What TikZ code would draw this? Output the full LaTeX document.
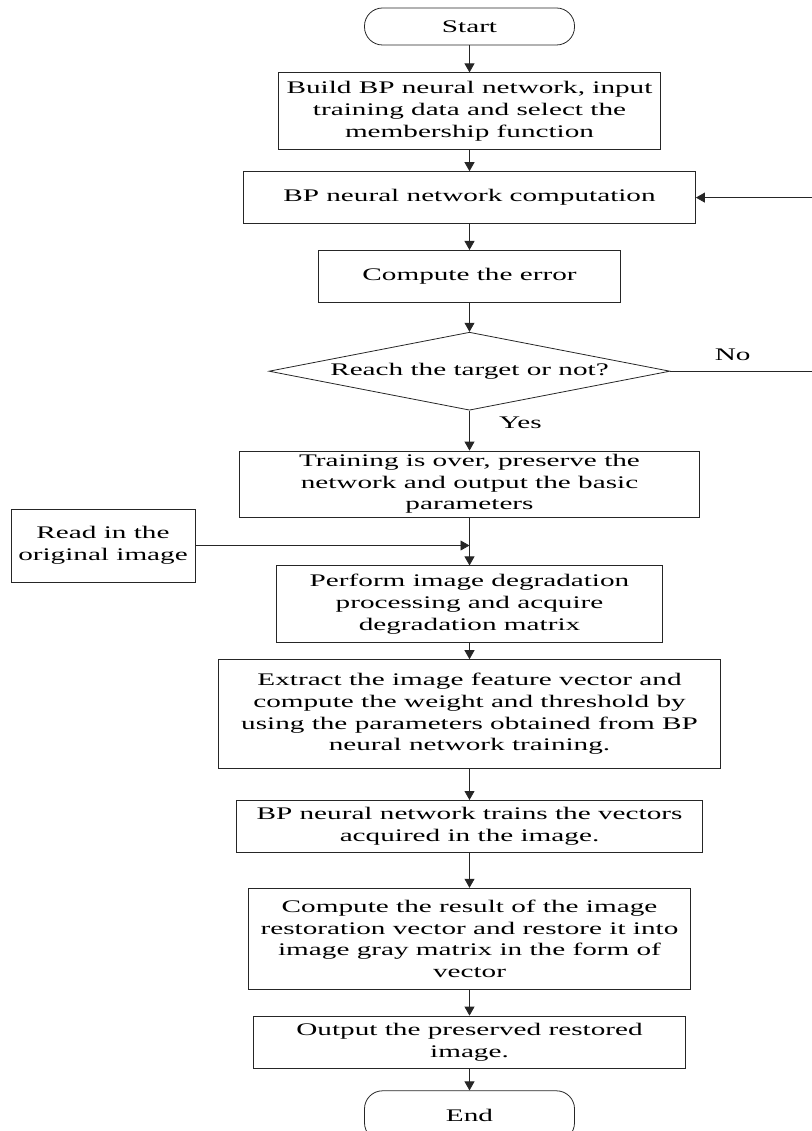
\documentclass[tikz,border=0pt]{standalone}
\usepackage{fontspec}
\setmainfont{Liberation Serif}[FakeStretch=1.65]
\usepackage{tikz}
\usetikzlibrary{arrows.meta,positioning,shapes.geometric}

\begin{document}
\begin{tikzpicture}[
  x=1pt, y=1pt,
  font=\fontsize{17.7}{21.7}\selectfont,
  procbox/.style={draw=black!85, line width=0.8pt, align=center, inner sep=3pt},
  termbox/.style={procbox, rounded corners=18pt, minimum width=210pt, minimum height=37pt},
  decbox/.style={draw=black!85, line width=0.8pt, diamond, aspect=5.1, inner sep=0pt, minimum width=401pt, minimum height=78pt},
  flow/.style={-{Triangle[length=9pt,width=10pt]}, line width=0.8pt, draw=black!85}
]
\useasboundingbox (0,0) rectangle (811,-1131);

\node[termbox] (start) at (469.5,-26.5) {Start};
\node[procbox, minimum width=382pt, minimum height=77pt, below=27pt of start] (build) {Build BP neural network, input\\training data and select the\\membership function};
\node[procbox, minimum width=452pt, minimum height=52pt, below=21pt of build] (comp) {BP neural network computation};
\node[procbox, minimum width=302pt, minimum height=52pt, below=26pt of comp] (err) {Compute the error};
\node[decbox, below=29pt of err] (dec) {Reach the target or not?};
\node[procbox, minimum width=460pt, minimum height=66pt, below=40pt of dec] (train) {Training is over, preserve the\\network and output the basic\\parameters};
\node[procbox, minimum width=184pt, minimum height=73pt] (read) at (103,-545.5) {Read in the\\original image};
\node[procbox, minimum width=386pt, minimum height=77pt, below=48pt of train] (degr) {Perform image degradation\\processing and acquire\\degradation matrix};
\node[procbox, minimum width=502pt, minimum height=109pt, below=16pt of degr] (extract) {Extract the image feature vector and\\compute the weight and threshold by\\using the parameters obtained from BP\\neural network training.};
\node[procbox, minimum width=466pt, minimum height=52pt, below=31pt of extract] (trainv) {BP neural network trains the vectors\\acquired in the image.};
\node[procbox, minimum width=442pt, minimum height=101pt, below=35pt of trainv] (restore) {Compute the result of the image\\restoration vector and restore it into\\image gray matrix in the form of\\vector};
\node[procbox, minimum width=432pt, minimum height=52pt, below=26pt of restore] (output) {Output the preserved restored\\image.};
\node[termbox, minimum height=50pt, below=22pt of output] (stop) {End};

\coordinate (loopr) at (812,0);

\draw[flow] (start) -- (build);
\draw[flow] (build) -- (comp);
\draw[flow] (comp) -- (err);
\draw[flow] (err) -- (dec);
\draw[flow] (dec) -- node[pos=0.3, right=26pt] (yes) {Yes} (train);
\draw[flow] (dec.east) -- node[pos=0.44, above=7pt] (no) {No} (dec.east -| loopr) |- (comp.east);
\draw[flow] (train) -- (degr);
\draw[flow] (read.east) -- (read.east -| train.south);
\draw[flow] (degr) -- (extract);
\draw[flow] (extract) -- (trainv);
\draw[flow] (trainv) -- (restore);
\draw[flow] (restore) -- (output);
\draw[flow] (output) -- (stop);
\end{tikzpicture}
\end{document}
